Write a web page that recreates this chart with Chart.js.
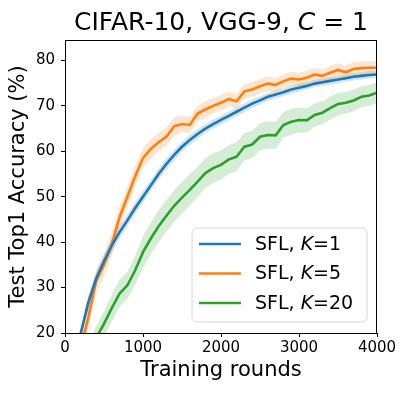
<!DOCTYPE html>
<html lang="en">
<head>
  <meta charset="UTF-8">
  <title>CIFAR-10, VGG-9, C=1</title>
  <script src="https://cdn.jsdelivr.net/npm/chart.js@4.4.1/dist/chart.umd.min.js"></script>
  <style>
    body { margin: 0; background: #fff; }
    #wrap { width: 407px; height: 393px; }
  </style>
</head>
<body>
  <div id="wrap"><canvas id="accChart" width="407" height="393"></canvas></div>

  <script>
    // training rounds (x), one point every 100 rounds
    const rounds = [0,100,200,300,400,500,600,700,800,900,1000,1100,1200,1300,1400,1500,1600,1700,1800,1900,2000,
                    2100,2200,2300,2400,2500,2600,2700,2800,2900,3000,3100,3200,3300,3400,3500,3600,3700,3800,3900,4000];

    // mean test accuracy (%)
    const accK1 = [10,14.5,19.8,26.8,32.0,35.8,39.3,42.2,44.8,47.5,50.0,52.5,55.0,57.2,59.2,61.0,62.5,63.8,65.0,66.0,66.9,
                   67.8,68.7,69.6,70.5,71.2,72.0,72.5,73.0,73.6,74.0,74.4,74.9,75.2,75.5,75.8,76.1,76.4,76.6,76.8,76.9];
    const accK5 = [8,12,16.5,23.5,31.5,35.0,39.5,45.5,50.0,54.5,58.5,60.5,62.0,63.2,65.5,66.0,65.8,68.3,69.2,70.0,70.7,
                   71.5,71.0,73.2,73.6,74.3,74.9,74.6,75.4,76.0,75.8,76.2,76.9,76.6,77.3,77.9,77.4,78.1,78.3,78.4,78.4];
    const accK20 = [5,8,11,15,19,22.0,25.5,28.7,30.5,33.8,37.8,40.8,43.5,45.8,48.0,49.8,51.5,53.3,55.2,56.3,57.0,
                    58.2,58.8,61.0,61.5,63.2,63.6,63.5,65.8,66.5,66.9,66.8,68.0,68.5,69.5,70.4,70.7,71.2,72.0,72.3,72.9];

    // half width of the shaded band
    const sdK1 = [1,1,1,1.5,1.5,1.5,1.5,1.4,1.3,1.3,1.3,1.2,1.2,1.2,1.2,1.1,1.1,1.1,1.0,1.0,1.0,
                  1.0,1.0,1.0,0.9,0.9,0.9,0.9,0.9,0.9,0.9,0.8,0.8,0.8,0.8,0.8,0.8,0.8,0.8,0.8,0.8];
    const sdK5 = [2,2,2,2.5,2.5,2.5,2.5,2.5,2.3,2.3,2.2,2.2,2.0,2.0,2.0,1.8,1.8,1.8,1.8,1.7,1.7,
                  1.6,1.6,1.6,1.6,1.6,1.6,1.5,1.5,1.5,1.5,1.5,1.5,1.5,1.5,1.5,1.5,1.5,1.5,1.5,1.5];
    const sdK20 = [2,2,2,2.5,2.5,2.8,3,3,3,3.2,3.5,3.5,3.5,3.5,3.5,3.5,3.5,3.3,3.3,3.3,3.2,
                   3.2,3.2,3,3,3,3,3,2.8,2.8,2.8,2.6,2.6,2.5,2.5,2.5,2.4,2.4,2.3,2.3,2.3];

    const seriesNames = ['1', '5', '20'];
    const xTicks = [0, 1000, 2000, 3000, 4000];
    const yTicks = [20, 30, 40, 50, 60, 70, 80];

    const colors = ['#1f77b4', '#ff7f0e', '#2ca02c'];
    const bandColors = ['rgba(31,119,180,0.2)', 'rgba(255,127,14,0.2)', 'rgba(44,160,44,0.2)'];
    const FONT = '"DejaVu Sans", sans-serif';

    const toPts = (vals, sd, sign) => rounds.map((r, i) => ({ x: r, y: vals[i] + sign * (sd ? sd[i] : 0) }));

    const means = [accK1, accK5, accK20];
    const sds = [sdK1, sdK5, sdK20];
    const datasets = [];
    means.forEach((m, k) => {
      datasets.push({ data: toPts(m, sds[k], 1), borderWidth: 0, pointRadius: 0, backgroundColor: bandColors[k],
                      fill: '+1', order: 2, tension: 0 });
      datasets.push({ data: toPts(m, sds[k], -1), borderWidth: 0, pointRadius: 0, fill: false, order: 2, tension: 0 });
    });
    means.forEach((m, k) => {
      datasets.push({ data: toPts(m, null, 0), borderColor: colors[k], borderWidth: 2.6, pointRadius: 0,
                      fill: false, order: 1, tension: 0 });
    });

    // title, axis labels, frame and legend
    const decor = {
      id: 'decor',
      afterDraw(chart) {
        const c = chart.ctx, a = chart.chartArea;
        c.save();
        c.strokeStyle = '#000';
        c.lineWidth = 1;
        c.strokeRect(a.left + 0.5, a.top + 0.5, a.right - a.left - 1, a.bottom - a.top);

        c.fillStyle = '#000';
        c.textBaseline = 'middle';
        const mid = (a.left + a.right) / 2;

        // title with italic C
        const parts = [['CIFAR-10, VGG-9, ', ''], ['C', 'italic '], [' = 1', '']];
        const tsize = 25;
        let w = 0;
        parts.forEach(p => { c.font = p[1] + tsize + 'px ' + FONT; w += c.measureText(p[0]).width; });
        let x = mid - w / 2;
        parts.forEach(p => { c.font = p[1] + tsize + 'px ' + FONT; c.fillText(p[0], x, 23); x += c.measureText(p[0]).width; });

        // axis titles
        c.font = '21px ' + FONT;
        c.textAlign = 'center';
        c.fillText('Training rounds', mid, 371);
        c.save();
        c.translate(19, (a.top + a.bottom) / 2);
        c.rotate(-Math.PI / 2);
        c.fillText('Test Top1 Accuracy (%)', 0, 0);
        c.restore();

        // legend
        const bx = 192, by = 228, bw = 175, bh = 94, rr = 5;
        c.beginPath();
        c.moveTo(bx + rr, by);
        c.arcTo(bx + bw, by, bx + bw, by + bh, rr);
        c.arcTo(bx + bw, by + bh, bx, by + bh, rr);
        c.arcTo(bx, by + bh, bx, by, rr);
        c.arcTo(bx, by, bx + bw, by, rr);
        c.closePath();
        c.fillStyle = 'rgba(255,255,255,0.8)';
        c.fill();
        c.strokeStyle = '#d6d6d6';
        c.stroke();

        c.textAlign = 'left';
        seriesNames.forEach((n, k) => {
          const yy = 244 + k * 29.5;
          c.strokeStyle = colors[k];
          c.lineWidth = 2.6;
          c.beginPath(); c.moveTo(199, yy); c.lineTo(241, yy); c.stroke();
          c.fillStyle = '#000';
          const items = [['SFL, ', ''], ['K', 'italic '], ['=' + n, '']];
          let xx = 255;
          items.forEach(p => { c.font = p[1] + '19px ' + FONT; c.fillText(p[0], xx, yy + 1); xx += c.measureText(p[0]).width; });
        });
        c.restore();
      }
    };

    new Chart(document.getElementById('accChart'), {
      type: 'line',
      data: { datasets },
      plugins: [decor],
      options: {
        responsive: false,
        animation: false,
        events: [],
        layout: { padding: { top: 40, right: 30, left: 0, bottom: 0 } },
        plugins: { legend: { display: false }, tooltip: { enabled: false } },
        scales: {
          x: {
            type: 'linear', min: 0, max: 4000,
            afterBuildTicks: s => { s.ticks = xTicks.map(v => ({ value: v })); },
            afterFit: s => { s.height = 60; },
            grid: { drawOnChartArea: false, drawTicks: true, tickLength: 4, color: '#000' },
            border: { display: true, color: '#000' },
            ticks: { color: '#000', font: { family: FONT, size: 15 }, padding: 2, maxRotation: 0,
                     callback: v => String(v) }
          },
          y: {
            type: 'linear', min: 20, max: 84.5,
            afterBuildTicks: s => { s.ticks = yTicks.map(v => ({ value: v })); },
            afterFit: s => { s.width = 65; },
            grid: { drawOnChartArea: false, drawTicks: true, tickLength: 4, color: '#000' },
            border: { display: true, color: '#000' },
            ticks: { color: '#000', font: { family: FONT, size: 15 }, padding: 6 }
          }
        }
      }
    });
  </script>
</body>
</html>
